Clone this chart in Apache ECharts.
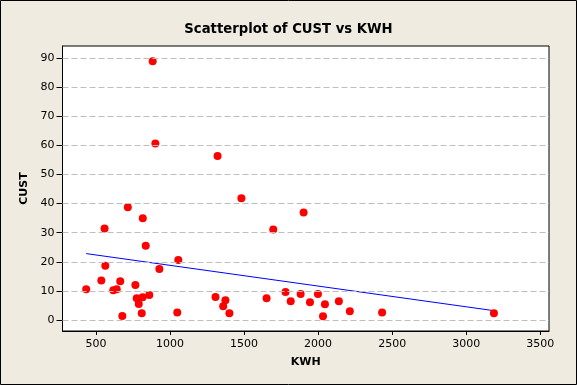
<!DOCTYPE html>
<html>
<head>
<meta charset="utf-8">
<script src="https://cdn.jsdelivr.net/npm/echarts@6/dist/echarts.min.js"></script>
<style>
html,body{margin:0;padding:0;background:#EFEBE1;}
#c{width:577px;height:385px;}
</style>
</head>
<body>
<div id="c"></div>
<script>
const kwh = [434, 536, 558, 563, 617, 640, 664, 678, 715, 766, 775, 789, 809, 816, 815, 836, 860, 883, 901, 928, 1049, 1056, 1307, 1321, 1359, 1374, 1401, 1482, 1652, 1697, 1780, 1815, 1882, 1902, 1945, 1999, 2033, 2046, 2140, 2214, 2432, 3187];
const cust = [10.6, 13.6, 31.4, 18.6, 10.2, 10.6, 13.3, 1.4, 38.7, 12.0, 7.5, 5.5, 2.3, 34.9, 7.8, 25.5, 8.6, 88.9, 60.6, 17.5, 2.6, 20.6, 7.9, 56.3, 4.7, 6.8, 2.3, 41.8, 7.5, 31.1, 9.6, 6.4, 8.9, 36.9, 6.1, 8.9, 1.3, 5.4, 6.4, 3.0, 2.6, 2.3];
const fitX = [434, 3187];
const fitY = [22.8, 3.2];
const xTicks = [500, 1000, 1500, 2000, 2500, 3000, 3500];
const yTicks = [0, 10, 20, 30, 40, 50, 60, 70, 80, 90];

const chart = echarts.init(document.getElementById('c'), null, {renderer: 'canvas'});
const font = 'DejaVu Sans';
chart.setOption({
  backgroundColor: '#EFEBE1',
  animation: false,
  title: {
    text: 'Scatterplot of CUST vs KWH',
    left: 'center', top: 17,
    textStyle: {fontFamily: 'DejaVu Sans Condensed', fontWeight: 'bold', fontSize: 14.7, color: '#000'}
  },
  graphic: [{
    type: 'rect', silent: true, z: 100,
    shape: {x: 0.5, y: 0.5, width: 576, height: 384},
    style: {fill: null, stroke: '#000', lineWidth: 1}
  }],
  grid: {
    left: 62.5, right: 28, top: 46, bottom: 54,
    show: true, backgroundColor: '#fff', borderColor: '#000', borderWidth: 1
  },
  xAxis: {
    type: 'value', min: 274, max: 3559,
    name: 'KWH', nameLocation: 'middle', nameGap: 26,
    nameTextStyle: {fontFamily: font, fontWeight: 'bold', fontSize: 11, color: '#000'},
    axisLine: {show: true, onZero: false, lineStyle: {color: '#000'}},
    axisTick: {show: true, length: 4, customValues: xTicks, lineStyle: {color: '#000'}},
    axisLabel: {customValues: xTicks, formatter: v => String(v), margin: 8, fontFamily: font, fontSize: 11, color: '#000'},
    splitLine: {show: false}
  },
  yAxis: {
    type: 'value', min: -3.78, max: 94.1,
    name: 'CUST', nameLocation: 'middle', nameGap: 33, nameRotate: 90,
    nameTextStyle: {fontFamily: font, fontWeight: 'bold', fontSize: 11, color: '#000'},
    axisLine: {show: true, onZero: false, lineStyle: {color: '#000'}},
    axisTick: {show: true, length: 6, customValues: yTicks, lineStyle: {color: '#000'}},
    axisLabel: {customValues: yTicks, formatter: v => String(v), margin: 8, fontFamily: font, fontSize: 11, color: '#000'},
    splitLine: {show: false}
  },
  series: [
    {
      type: 'line', data: fitX.map((x, i) => [x, fitY[i]]),
      showSymbol: false, symbol: 'none', silent: true,
      lineStyle: {color: '#0000FF', width: 1}, z: 3,
      markLine: {
        silent: true, symbol: ['none', 'none'], label: {show: false},
        lineStyle: {color: '#BEBEBE', type: [6, 3], width: 1},
        data: yTicks.map(v => ({yAxis: v}))
      }
    },
    {
      type: 'scatter', data: kwh.map((x, i) => [x, cust[i]]),
      symbol: 'circle', symbolSize: 8,
      itemStyle: {color: '#FF0000', opacity: 1}, z: 4
    }
  ]
});
</script>
</body>
</html>
